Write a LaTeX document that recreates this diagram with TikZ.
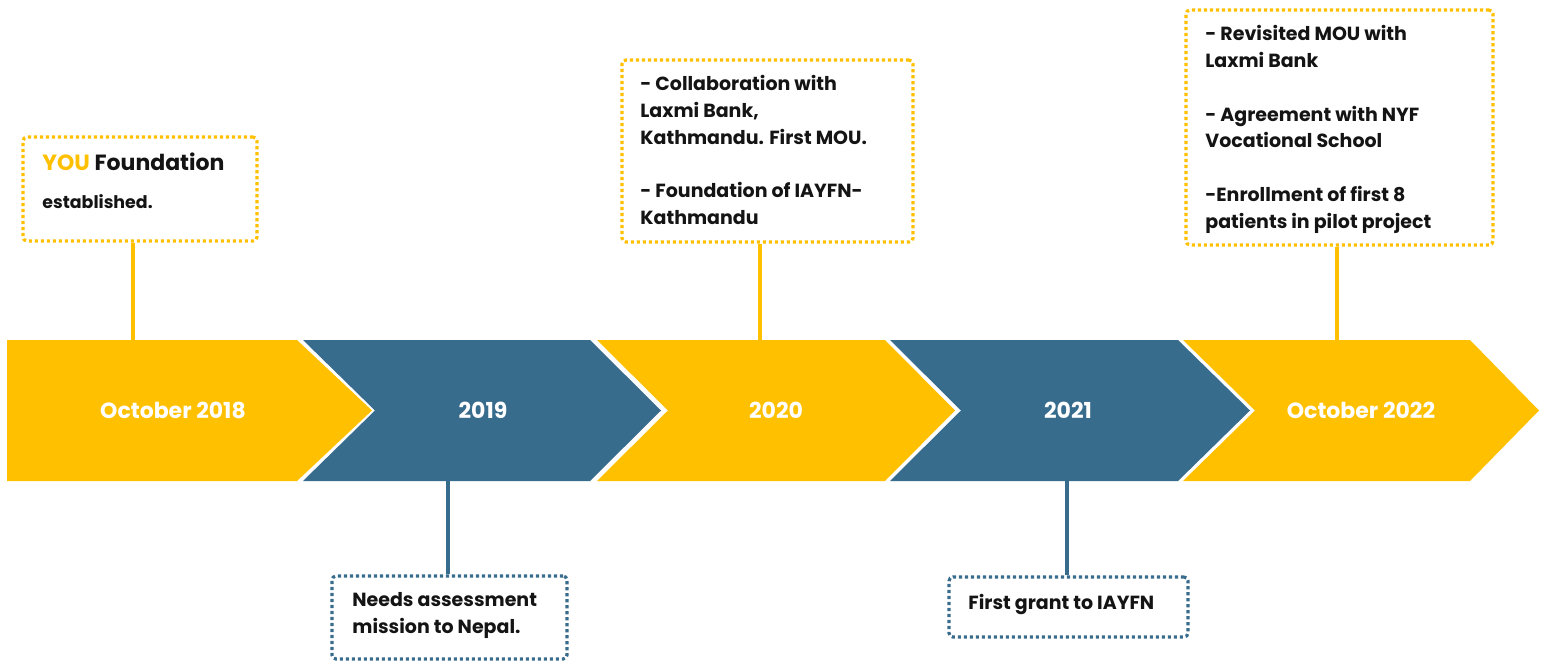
\documentclass[tikz,border=0pt]{standalone}
\usepackage{fontspec}
\setmainfont{Poppins}
\definecolor{gold}{RGB}{255,192,0}
\definecolor{steel}{RGB}{56,108,141}
\definecolor{ink}{RGB}{20,20,20}
\begin{document}
\begin{tikzpicture}[x=0.5pt,y=-0.5pt,
  ychev/.style={fill=gold,draw=none},
  bchev/.style={fill=steel,draw=none},
  yrbox/.style={draw=gold,line width=1.6pt,dash pattern=on 1.6pt off 1.4pt,rounded corners=2pt,fill=white,inner sep=0pt},
  brbox/.style={draw=steel,line width=1.6pt,dash pattern=on 1.6pt off 1.4pt,rounded corners=2pt,fill=white,inner sep=0pt},
  ylink/.style={draw=gold,line width=2pt},
  blink/.style={draw=steel,line width=2pt},
  yearlbl/.style={text=white,font={\fontsize{11}{13}\selectfont\bfseries},inner sep=0pt},
  boxtxt/.style={text=ink,align=left,anchor=north west,inner sep=0pt,font={\fontsize{9.5}{13.4}\selectfont\bfseries}}
]
\useasboundingbox (0,0) rectangle (1544,664);
% chevrons
\fill[ychev] (7,340) -- (297,340) -- (372,410.5) -- (297,481) -- (7,481) -- cycle;
\fill[bchev] (303,340) -- (590,340) -- (661,410.5) -- (590,481) -- (303,481) -- (375,410.5) -- cycle;
\fill[ychev] (597,340) -- (885,340) -- (955,410.5) -- (885,481) -- (597,481) -- (668,410.5) -- cycle;
\fill[bchev] (890,340) -- (1178,340) -- (1250,410.5) -- (1178,481) -- (890,481) -- (961,410.5) -- cycle;
\fill[ychev] (1183,340) -- (1470,340) -- (1539,410.5) -- (1470,481) -- (1183,481) -- (1255,410.5) -- cycle;
% labels
\node[yearlbl] (y1) at (173,410) {October 2018};
\node[yearlbl] (y2) at (483,410) {2019};
\node[yearlbl] (y3) at (776,410) {2020};
\node[yearlbl] (y4) at (1068,410) {2021};
\node[yearlbl] (y5) at (1361,410) {October 2022};
% anchor points on band
\coordinate (c1) at (133,340);
\coordinate (c2) at (448,481);
\coordinate (c3) at (760,340);
\coordinate (c4) at (1067,481);
\coordinate (c5) at (1337,340);
% boxes
\node[yrbox,minimum width=117pt,minimum height=52pt] (b1) at (140,189) {};
\node[yrbox,minimum width=145.5pt,minimum height=91pt] (b3) at (767.5,151) {};
\node[yrbox,minimum width=153.5pt,minimum height=117.5pt] (b5) at (1339.5,127.5) {};
\node[brbox,minimum width=117.5pt,minimum height=41.5pt] (b2) at (449.5,617.5) {};
\node[brbox,minimum width=119.5pt,minimum height=30pt] (b4) at (1068.5,607) {};
% connectors
\draw[ylink] (b1.south -| c1) -- (c1);
\draw[ylink] (b3.south -| c3) -- (c3);
\draw[ylink] (b5.south -| c5) -- (c5);
\draw[blink] (b2.north -| c2) -- (c2);
\draw[blink] (b4.north -| c4) -- (c4);
% texts
\node[boxtxt,anchor=base west,font={\fontsize{11}{13}\selectfont\bfseries}] (t1a) at (42,170) {\textcolor{gold}{YOU} Foundation};
\node[boxtxt,anchor=base west,font={\fontsize{8.7}{10}\selectfont\bfseries}] (t1b) at (42,208) {established.};
\node[boxtxt] (t3) at (640,75) {- Collaboration with\\Laxmi Bank,\\Kathmandu. First MOU.\\[13.4pt]- Foundation of IAYFN-\\Kathmandu};
\node[boxtxt] (t5) at (1205,25) {- Revisited MOU with\\Laxmi Bank\\[13.4pt]- Agreement with NYF\\Vocational School\\[13.4pt]-Enrollment of first 8\\patients in pilot project};
\node[boxtxt] (t2) at (352,592) {Needs assessment\\mission to Nepal.};
\node[boxtxt,anchor=base west] (t4) at (968,609) {First grant to IAYFN};
\end{tikzpicture}
\end{document}
